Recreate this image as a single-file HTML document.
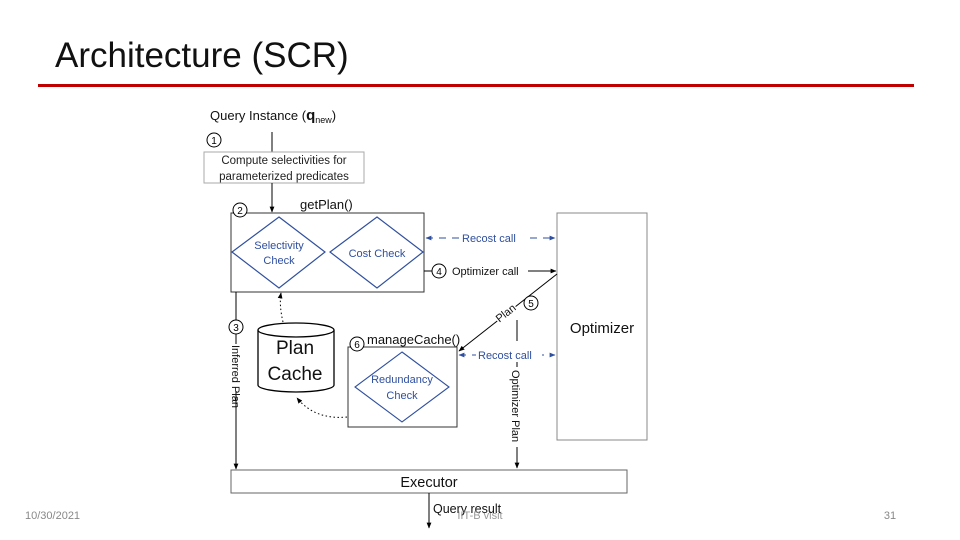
<!DOCTYPE html>
<html><head><meta charset="utf-8"><style>
html,body{margin:0;padding:0;background:#fff;}
svg{display:block;font-family:"Liberation Sans",sans-serif;}
</style></head><body>
<svg width="960" height="540" viewBox="0 0 960 540" xmlns="http://www.w3.org/2000/svg">
<defs>
<marker id="a" viewBox="0 0 10 10" refX="9" refY="5" markerWidth="6" markerHeight="6" orient="auto-start-reverse"><path d="M0,1 L10,5 L0,9z" fill="#000"/></marker>
<marker id="b" viewBox="0 0 10 10" refX="9" refY="5" markerWidth="6" markerHeight="6" orient="auto-start-reverse"><path d="M0,1 L10,5 L0,9z" fill="#2f4f9f"/></marker>
</defs>
<text x="55" y="67" font-size="35" fill="#111">Architecture (SCR)</text>
<rect x="38" y="84" width="876" height="3" fill="#c00000"/>

<text x="210" y="120" font-size="13" fill="#111">Query Instance (<tspan font-weight="bold" font-size="15">q</tspan><tspan font-size="9" dy="3">new</tspan><tspan dy="-3">)</tspan></text>
<circle cx="214" cy="140" r="7" fill="none" stroke="#000"/><text x="214" y="144" font-size="10" text-anchor="middle">1</text>
<line x1="272" y1="132" x2="272" y2="152" stroke="#000"/>
<rect x="204" y="152" width="160" height="31" fill="#fff" stroke="#aaa"/>
<text x="284" y="164" font-size="11.5" text-anchor="middle" fill="#222">Compute selectivities for</text>
<text x="284" y="180" font-size="11.5" text-anchor="middle" fill="#222">parameterized predicates</text>
<line x1="272" y1="183" x2="272" y2="212" stroke="#000" marker-end="url(#a)"/>

<rect x="231" y="213" width="193" height="79" fill="#fff" stroke="#333"/>
<circle cx="240" cy="210" r="7" fill="#fff" stroke="#000"/><text x="240" y="214" font-size="10" text-anchor="middle">2</text>
<text x="300" y="209" font-size="13" fill="#111">getPlan()</text>
<polygon points="279,217 325,252 279,288 232,252" fill="none" stroke="#2f4f9f" stroke-width="1.2"/>
<text x="279" y="249" font-size="11" fill="#2f4f9f" text-anchor="middle">Selectivity</text>
<text x="279" y="264" font-size="11" fill="#2f4f9f" text-anchor="middle">Check</text>
<polygon points="377,217 423,252 377,288 330,252" fill="none" stroke="#2f4f9f" stroke-width="1.2"/>
<text x="377" y="257" font-size="11" fill="#2f4f9f" text-anchor="middle">Cost Check</text>

<rect x="557" y="213" width="90" height="227" fill="#fff" stroke="#888"/>
<text x="602" y="333" font-size="15" text-anchor="middle" fill="#111">Optimizer</text>

<line x1="426" y1="238" x2="555" y2="238" stroke="#2f4f9f" stroke-dasharray="7,6" marker-start="url(#b)" marker-end="url(#b)"/>
<rect x="459" y="231" width="66" height="14" fill="#fff"/>
<text x="462" y="242" font-size="11" fill="#2f4f9f">Recost call</text>
<line x1="424" y1="271" x2="556" y2="271" stroke="#000" marker-end="url(#a)"/>
<rect x="432" y="262" width="96" height="17" fill="#fff"/>
<circle cx="439" cy="271" r="7" fill="#fff" stroke="#000"/><text x="439" y="275" font-size="10" text-anchor="middle">4</text>
<text x="452" y="275" font-size="11" fill="#111">Optimizer call</text>

<line x1="557" y1="274" x2="459" y2="351" stroke="#000" marker-end="url(#a)"/>
<text x="508" y="316" font-size="11" transform="rotate(-38 508 316)" text-anchor="middle" fill="#111" stroke="#fff" stroke-width="3" paint-order="stroke">Plan</text>
<circle cx="531" cy="303" r="7" fill="#fff" stroke="#000"/><text x="531" y="307" font-size="10" text-anchor="middle">5</text>

<line x1="517" y1="320" x2="517" y2="341" stroke="#000"/>
<line x1="517" y1="362" x2="517" y2="468" stroke="#000" marker-end="url(#a)"/>
<rect x="510" y="367" width="14" height="80" fill="#fff"/>
<text x="512" y="370" font-size="11" transform="rotate(90 512 370)" fill="#111">Optimizer Plan</text>

<line x1="459" y1="355" x2="555" y2="355" stroke="#2f4f9f" stroke-dasharray="7,6" marker-start="url(#b)" marker-end="url(#b)"/>
<rect x="476" y="348" width="66" height="14" fill="#fff"/>
<text x="478" y="359" font-size="11" fill="#2f4f9f">Recost call</text>

<rect x="348" y="347" width="109" height="80" fill="#fff" stroke="#333"/>
<circle cx="357" cy="344" r="7" fill="#fff" stroke="#000"/><text x="357" y="348" font-size="10" text-anchor="middle">6</text>
<text x="367" y="344" font-size="13" fill="#111">manageCache()</text>
<polygon points="402,352 449,387 402,422 355,387" fill="none" stroke="#2f4f9f" stroke-width="1.1"/>
<text x="402" y="383" font-size="11" fill="#2f4f9f" text-anchor="middle">Redundancy</text>
<text x="402" y="399" font-size="11" fill="#2f4f9f" text-anchor="middle">Check</text>

<path d="M258,330 L258,385 A38,7 0 0 0 334,385 L334,330" fill="#fff" stroke="#000" stroke-width="1.3"/>
<ellipse cx="296" cy="330" rx="38" ry="7" fill="#fff" stroke="#000" stroke-width="1.3"/>
<text x="295" y="354" font-size="19" text-anchor="middle" fill="#111">Plan</text>
<text x="295" y="380" font-size="19" text-anchor="middle" fill="#111">Cache</text>
<path d="M283,322 Q279,305 281,293" fill="none" stroke="#000" stroke-dasharray="1.5,2.5" marker-end="url(#a)"/>
<path d="M347,417 Q315,420 297,398" fill="none" stroke="#000" stroke-dasharray="1.5,2.5" marker-end="url(#a)"/>

<line x1="236" y1="292" x2="236" y2="469" stroke="#000" marker-end="url(#a)"/>
<circle cx="236" cy="327" r="7" fill="#fff" stroke="#000"/><text x="236" y="331" font-size="10" text-anchor="middle">3</text>
<rect x="229" y="344" width="14" height="47" fill="#fff"/>
<text x="232" y="345" font-size="11" transform="rotate(90 232 345)" fill="#111">Inferred Plan</text>

<rect x="231" y="470" width="396" height="23" fill="#fff" stroke="#666"/>
<text x="429" y="487" font-size="14.5" text-anchor="middle" fill="#111">Executor</text>
<line x1="429" y1="493" x2="429" y2="528" stroke="#000" marker-end="url(#a)"/>
<text x="433" y="513" font-size="12.5" fill="#111">Query result</text>
<text x="480" y="519" font-size="11" fill="#999" text-anchor="middle">IIT-B visit</text>
<text x="25" y="519" font-size="11" fill="#888">10/30/2021</text>
<text x="890" y="519" font-size="11" fill="#888" text-anchor="middle">31</text>
</svg>
</body></html>
